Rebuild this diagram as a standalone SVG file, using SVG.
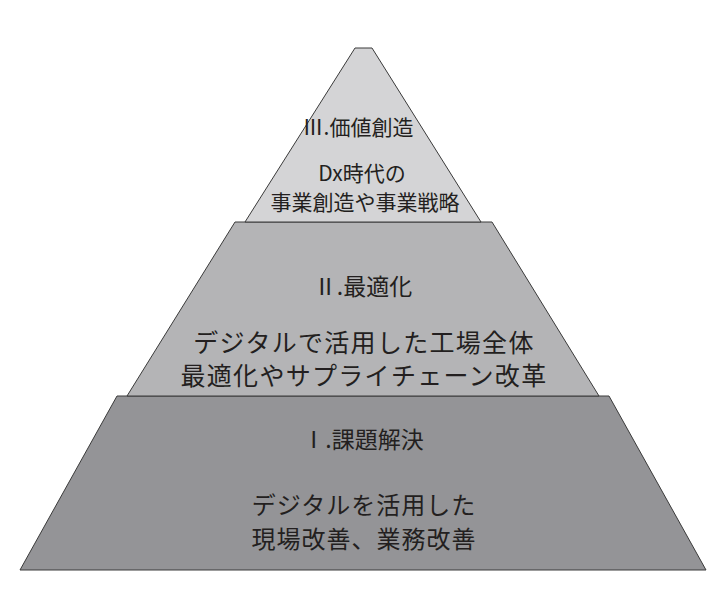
<svg xmlns="http://www.w3.org/2000/svg" width="728" height="611" viewBox="0 0 728 611">
<style>
.t{font-family:"Noto Sans CJK JP","Liberation Sans",sans-serif;fill:#231f20;text-anchor:middle}
.s{stroke:#3a3a3a;stroke-width:1}
</style>
<rect width="728" height="611" fill="#fff"/>
<g id="tier1">
<polygon class="s" points="117,396 609,396 706,570 20,570" fill="#949497"/>
<text class="t" x="363" y="448" font-size="23">Ⅰ.課題解決</text>
<text class="t" x="364" y="514" font-size="24" letter-spacing="1">デジタルを活用した</text>
<text class="t" x="364" y="548" font-size="24" letter-spacing="1">現場改善、業務改善</text>
</g>
<g id="tier2">
<polygon class="s" points="235,222 492,222 599,396 127,396" fill="#b4b4b6"/>
<text class="t" x="363" y="295" font-size="23">Ⅱ.最適化</text>
<text class="t" x="364" y="352" font-size="25" letter-spacing="1.3">デジタルで活用した工場全体</text>
<text class="t" x="364" y="385" font-size="25" letter-spacing="1.3">最適化やサプライチェーン改革</text>
</g>
<g id="tier3">
<polygon class="s" points="355,48 372,48 481,222 245,222" fill="#d4d4d6"/>
<text class="t" x="358" y="135" font-size="21">Ⅲ.価値創造</text>
<text class="t" x="362" y="181" font-size="21">Dx時代の</text>
<text class="t" x="365" y="210" font-size="21">事業創造や事業戦略</text>
</g>
<g id="connectors"/>
</svg>
